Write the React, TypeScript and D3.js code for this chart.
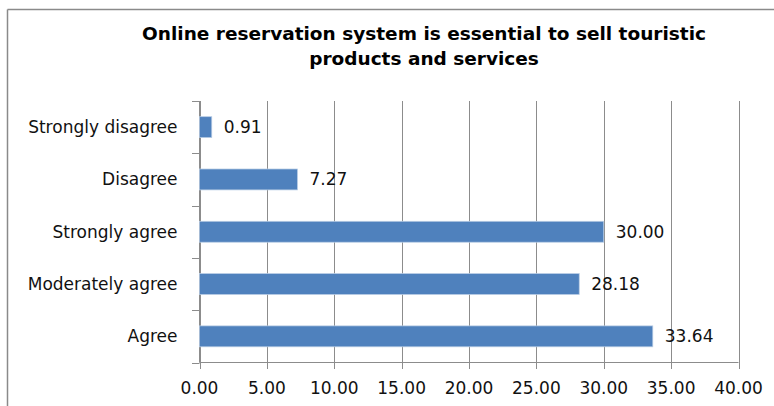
import React from "react";
import * as d3 from "d3";

const categories: string[] = ["Strongly disagree", "Disagree", "Strongly agree", "Moderately agree", "Agree"];
const values: number[] = [0.91, 7.27, 30.0, 28.18, 33.64];
const xTicks: number[] = [0, 5, 10, 15, 20, 25, 30, 35, 40];
const titleLines: string[] = ["Online reservation system is essential to sell touristic", "products and services"];

const W = 774;
const H = 406;
const left = 199.5;
const right = 738.5;
const top = 101;
const bottom = 362.5;
const FONT = "'DejaVu Sans', sans-serif";
const GRID = "#8c8c8c";

export default function App() {
  const x = d3.scaleLinear().domain([0, 40]).range([left, right]);
  const y = d3
    .scaleBand<string>()
    .domain(categories)
    .range([top, bottom])
    .paddingInner(0.6)
    .paddingOuter(0.3);
  const step = y.step();
  const boundaries = d3.range(categories.length + 1).map((i) => top + i * step);

  return (
    <svg
      width={W}
      height={H}
      style={{ position: "absolute", left: 0, top: 0, background: "#fff" }}
      fontFamily={FONT}
    >
      <rect x={0} y={0} width={W} height={H} fill="#fff" />
      {/* chart border */}
      <line x1={7.5} x2={W} y1={9.5} y2={9.5} stroke="#8a8a8a" strokeWidth={1.5} />
      <line x1={7.5} x2={7.5} y1={9.5} y2={H} stroke="#8a8a8a" strokeWidth={1.5} />

      {/* title */}
      {titleLines.map((t, i) => (
        <text
          key={t}
          x={424}
          y={40 + i * 24.5}
          textAnchor="middle"
          fontWeight="bold"
          fontSize={18.5}
          fill="#000"
        >
          {t}
        </text>
      ))}

      {/* gridlines */}
      {xTicks.map((t) => (
        <line
          key={"g" + t}
          x1={Math.round(x(t)) + 0.5}
          x2={Math.round(x(t)) + 0.5}
          y1={top}
          y2={bottom + 6.5}
          stroke={GRID}
          strokeWidth={1}
        />
      ))}

      {/* y axis line and ticks */}
      <line x1={left} x2={left} y1={top} y2={bottom} stroke={GRID} strokeWidth={1} />
      {boundaries.map((b, i) => (
        <line
          key={"yt" + i}
          x1={left - 7.5}
          x2={left}
          y1={Math.round(b) + 0.5}
          y2={Math.round(b) + 0.5}
          stroke={GRID}
          strokeWidth={1}
        />
      ))}
      {/* x axis line */}
      <line x1={left} x2={right} y1={bottom} y2={bottom} stroke={GRID} strokeWidth={1} />

      {/* bars */}
      {categories.map((c, i) => (
        <rect
          key={"b" + c}
          x={x(0)}
          y={y(c)!}
          width={x(values[i]) - x(0)}
          height={y.bandwidth()}
          fill="#4f81bd"
          stroke="#b9cde5"
          strokeWidth={0.75}
        />
      ))}

      {/* value labels */}
      {categories.map((c, i) => (
        <text
          key={"v" + c}
          x={x(values[i]) + 12}
          y={y(c)! + y.bandwidth() / 2 + 6}
          fontSize={17}
          fill="#111"
        >
          {values[i].toFixed(2)}
        </text>
      ))}

      {/* category labels */}
      {categories.map((c) => (
        <text
          key={"c" + c}
          x={177.5}
          y={y(c)! + y.bandwidth() / 2 + 6}
          textAnchor="end"
          fontSize={17}
          fill="#111"
        >
          {c}
        </text>
      ))}

      {/* x tick labels */}
      {xTicks.map((t) => (
        <text key={"xl" + t} x={x(t)} y={394} textAnchor="middle" fontSize={17} fill="#111">
          {t.toFixed(2)}
        </text>
      ))}
    </svg>
  );
}
